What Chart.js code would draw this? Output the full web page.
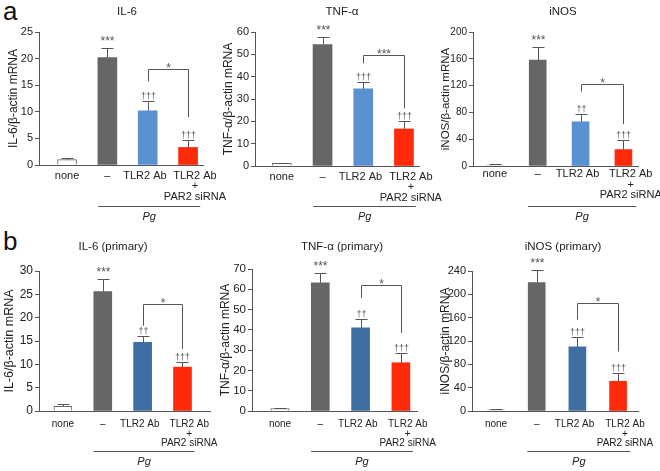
<!DOCTYPE html>
<html>
<head>
<meta charset="utf-8">
<script src="https://cdn.jsdelivr.net/npm/chart.js@4.4.1/dist/chart.umd.min.js"></script>
<style>
  body { margin: 0; background: #fff; }
  #fig { position: relative; width: 660px; height: 471px; overflow: hidden; background: #fff; }
  .panel { position: absolute; width: 232px; height: 235px; }
  .letter { position: absolute; font: 26px "Liberation Sans", Arial, sans-serif; line-height: 1; color: #111; }
</style>
</head>
<body>
<div id="fig">
  <div class="letter" style="left:3px; top:-2px;">a</div>
  <div class="letter" style="left:3px; top:228px;">b</div>
  <div class="panel" style="left:0; top:0;"><canvas id="c0" width="232" height="235"></canvas></div>
  <div class="panel" style="left:220px; top:0;"><canvas id="c1" width="232" height="235"></canvas></div>
  <div class="panel" style="left:440px; top:0;"><canvas id="c2" width="232" height="235"></canvas></div>
  <div class="panel" style="left:0; top:235px;"><canvas id="c3" width="232" height="235"></canvas></div>
  <div class="panel" style="left:220px; top:235px;"><canvas id="c4" width="232" height="235"></canvas></div>
  <div class="panel" style="left:440px; top:235px;"><canvas id="c5" width="232" height="235"></canvas></div>
</div>
<script>
// ===== data =====
const categories = ['none', '–', 'TLR2 Ab', ['TLR2 Ab', '+', 'PAR2 siRNA']];
const groupLabel = 'Pg';

const panelTitles = ['IL-6', 'TNF-α', 'iNOS', 'IL-6 (primary)', 'TNF-α (primary)', 'iNOS (primary)'];
const yTitles = ['IL-6/β-actin mRNA', 'TNF-α/β-actin mRNA', 'iNOS/β-actin mRNA',
                 'IL-6/β-actin mRNA', 'TNF-α/β-actin mRNA', 'iNOS/β-actin mRNA'];

// cell line (a)
const il6Mean  = [1.0, 20.2, 10.2, 3.3];
const il6Sd    = [0.4, 1.8, 1.9, 1.4];
const tnfMean  = [1.2, 54.4, 34.5, 16.6];
const tnfSd    = [0.3, 3.3, 3.0, 3.7];
const inosMean = [1.5, 158, 66, 24.5];
const inosSd   = [2.0, 20, 11, 15];

// primary cells (b)
const il6pMean  = [1.0, 25.6, 14.7, 9.4];
const il6pSd    = [0.5, 2.7, 1.4, 1.1];
const tnfpMean  = [1.2, 63.2, 41.0, 23.8];
const tnfpSd    = [0.4, 5.0, 4.2, 5.0];
const inospMean = [2.0, 220, 110, 51];
const inospSd   = [2.0, 21, 17, 15];

const means = [il6Mean, tnfMean, inosMean, il6pMean, tnfpMean, inospMean];
const sds   = [il6Sd, tnfSd, inosSd, il6pSd, tnfpSd, inospSd];

const yMax  = [25, 60, 200, 30, 70, 240];
const yStep = [5, 10, 40, 5, 10, 40];

const barMarks = [
  ['', '***', '†††', '†††'],
  ['', '***', '†††', '†††'],
  ['', '***', '††', '†††'],
  ['', '***', '††', '†††'],
  ['', '***', '††', '†††'],
  ['', '***', '†††', '†††']
];
// bracket between TLR2 Ab and TLR2 Ab + PAR2 siRNA: [top, left end, right end] in y units
const brackets = [[18, 15.7, 9.0], [49.5, 46, 25.8], [122, 111, 62.5],
                  [23, 18.3, 13.3], [62, 55.7, 38.5], [185, 156.5, 102]];
const bracketMarks = ['*', '***', '*', '*', '*', '*'];

// ===== look =====
const FONT = '"Liberation Sans", Arial, sans-serif';
const darkGray = '#666666';
const blueA = '#5A91D2';
const blueB = '#3F6EA2';
const red = '#FF2A0A';
const inkGray = '#555555';
const labelShift = [0, 0, -0.07, 0.17];   // label nudges relative to bar centres

// per-panel placement; panels sit 220px apart, canvases are a bit wider so long labels can spill over
const layouts = [
  { axisX: 39, top: 32, bottom: 165, right: 203, xMin: 0.305, xMax: 4.37, bar: 19, tick: 11, cat: 11, catPad: 5.5, ytx: 14, ytf: 12, tx: 127, ty: 12, pgY: 206, blue: blueA },
  { axisX: 35, top: 32, bottom: 166, right: 199, xMin: 0.34, xMax: 4.37, bar: 19, tick: 11, cat: 11, catPad: 5.5, ytx: 9, ytf: 12, tx: 122, ty: 12, pgY: 206, blue: blueA },
  { axisX: 33, top: 32, bottom: 166, right: 198, xMin: 0.49, xMax: 4.34, bar: 17, tick: 10, cat: 11, catPad: 3, ytx: 6, ytf: 11.5, tx: 123, ty: 12, pgY: 206, blue: blueA },
  { axisX: 39, top: 36, bottom: 176, right: 210, xMin: 0.40, xMax: 4.69, bar: 18, tick: 12, cat: 10, catPad: 8.5, ytx: 10, ytf: 12.5, tx: 113, ty: 12, pgY: 216, blue: blueB },
  { axisX: 32, top: 34, bottom: 176, right: 197, xMin: 0.305, xMax: 4.40, bar: 18, tick: 11.5, cat: 10, catPad: 8.5, ytx: 6, ytf: 12, tx: 122, ty: 12, pgY: 216, blue: blueB },
  { axisX: 32, top: 36, bottom: 176, right: 198, xMin: 0.41, xMax: 4.49, bar: 17, tick: 11, cat: 10, catPad: 8.5, ytx: 6, ytf: 12, tx: 123, ty: 12, pgY: 216, blue: blueB }
];

// ===== annotations: error bars, marks, bracket, titles, Pg group line =====
function makeAnnot(i) {
  const L = layouts[i];
  return {
    id: 'annot' + i,
    afterDatasetsDraw(chart) {
      const { ctx } = chart;
      const x = chart.scales.x, y = chart.scales.y;
      ctx.save();
      ctx.strokeStyle = inkGray;
      ctx.fillStyle = inkGray;
      ctx.lineWidth = 1;
      ctx.textAlign = 'center';
      ctx.textBaseline = 'alphabetic';

      means[i].forEach((m, k) => {
        const cx = Math.round(x.getPixelForValue(k + 1)) + 0.5;
        const yb = y.getPixelForValue(m);
        const yt = Math.round(y.getPixelForValue(m + sds[i][k])) + 0.5;
        ctx.beginPath();
        ctx.moveTo(cx, yb);
        ctx.lineTo(cx, yt);
        ctx.moveTo(cx - 6, yt);
        ctx.lineTo(cx + 6, yt);
        ctx.stroke();
        const mk = barMarks[i][k];
        if (mk) {
          const star = mk[0] === '*';
          ctx.font = (star ? '12px ' : '9px ') + FONT;
          ctx.fillText(mk, cx, yt - (star ? 4 : 3));
        }
      });

      const [bt, bl, br] = brackets[i];
      const x1 = Math.round(x.getPixelForValue(3)) + 0.5;
      const x2 = Math.round(x.getPixelForValue(4)) + 0.5;
      const yTop = Math.round(y.getPixelForValue(bt)) + 0.5;
      ctx.beginPath();
      ctx.moveTo(x1, y.getPixelForValue(bl));
      ctx.lineTo(x1, yTop);
      ctx.lineTo(x2, yTop);
      ctx.lineTo(x2, y.getPixelForValue(br));
      ctx.stroke();
      ctx.font = '12px ' + FONT;
      ctx.fillText(bracketMarks[i], (x1 + x2) / 2, yTop + 2.5);

      // Pg group line
      const gx1 = x.getPixelForValue(1.77), gx2 = x.getPixelForValue(4.3);
      ctx.beginPath();
      ctx.moveTo(gx1, L.pgY + 0.5);
      ctx.lineTo(gx2, L.pgY + 0.5);
      ctx.stroke();
      ctx.fillStyle = '#222';
      ctx.font = 'italic 11px ' + FONT;
      ctx.textBaseline = 'middle';
      ctx.fillText(groupLabel, (gx1 + gx2) / 2, L.pgY + 11);

      // panel title
      ctx.font = '11.5px ' + FONT;
      ctx.fillText(panelTitles[i], L.tx, L.ty);

      // y axis title
      ctx.translate(L.ytx, (L.top + L.bottom) / 2);
      ctx.rotate(-Math.PI / 2);
      ctx.font = L.ytf + 'px ' + FONT;
      ctx.fillText(yTitles[i], 0, 0);
      ctx.restore();
    }
  };
}

function makeChart(i) {
  const L = layouts[i];
  const W = 232, H = 235;
  const fill = ['#ffffff', darkGray, L.blue, red];
  const border = ['#666666', darkGray, L.blue, red];
  new Chart(document.getElementById('c' + i), {
    type: 'bar',
    data: {
      datasets: [{
        data: means[i].map((v, k) => ({ x: k + 1, y: v })),
        backgroundColor: fill,
        borderColor: border,
        borderWidth: [1, 0, 0, 0],
        barThickness: L.bar
      }]
    },
    options: {
      responsive: false,
      animation: false,
      devicePixelRatio: 1,
      layout: { padding: { left: 0, top: L.top, right: W - L.right, bottom: 0 } },
      plugins: { legend: { display: false }, tooltip: { enabled: false } },
      scales: {
        x: {
          type: 'linear',
          offset: false,
          min: L.xMin,
          max: L.xMax,
          afterBuildTicks: s => { s.ticks = categories.map((c, k) => ({ value: k + 1 + labelShift[k] })); },
          afterFit: s => { s.height = H - L.bottom; s.paddingLeft = 0; s.paddingRight = 0; },
          grid: { display: true, drawOnChartArea: false, drawTicks: false },
          border: { display: true, color: inkGray, width: 1 },
          ticks: {
            autoSkip: false,
            maxRotation: 0,
            padding: L.catPad,
            color: '#222',
            font: { family: FONT, size: L.cat, lineHeight: 0.95 },
            callback: v => categories[Math.round(v) - 1]
          }
        },
        y: {
          min: 0,
          max: yMax[i],
          afterFit: s => { s.width = L.axisX; s.paddingTop = 0; s.paddingBottom = 0; },
          grid: { drawOnChartArea: false, drawTicks: true, tickLength: 4, color: inkGray },
          border: { display: true, color: inkGray, width: 1 },
          ticks: { stepSize: yStep[i], padding: 2, color: '#222', font: { family: FONT, size: L.tick } }
        }
      }
    },
    plugins: [makeAnnot(i)]
  });
}

for (let i = 0; i < 6; i++) makeChart(i);
</script>
</body>
</html>
